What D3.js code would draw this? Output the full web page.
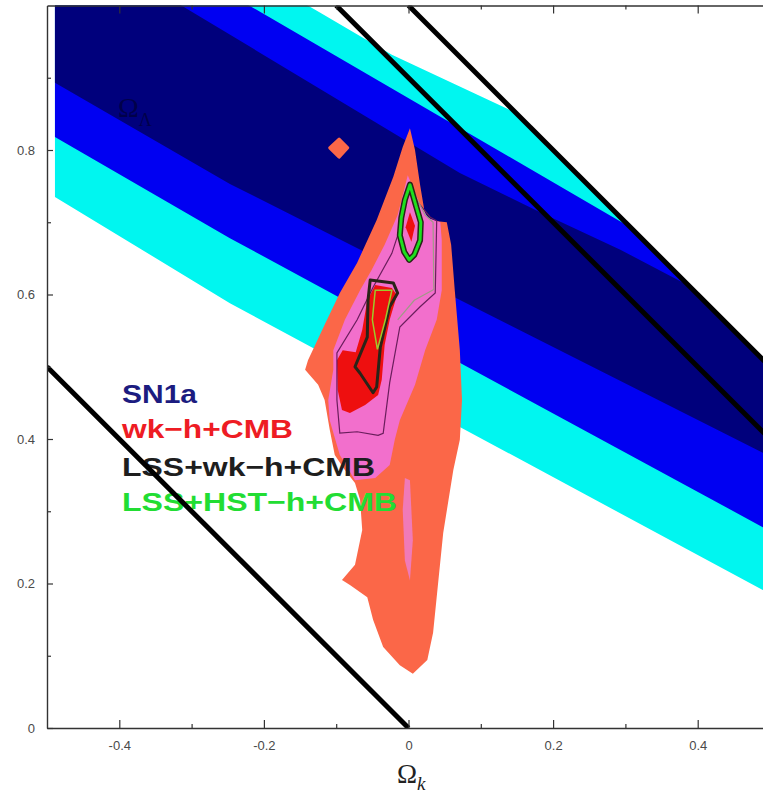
<!DOCTYPE html>
<html><head><meta charset="utf-8">
<script src="https://cdn.jsdelivr.net/npm/d3@7"></script>
<style>html,body{margin:0;padding:0;background:#fff;} svg{display:block}</style>
</head><body>
<script>
// ---------- data (Omega_k , Omega_m) ----------
const xTickMajor = [-0.4, -0.2, 0, 0.2, 0.4];
const xTickMinor = [-0.3, -0.1, 0.1, 0.3];
const xTickLabels = ["-0.4", "-0.2", "0", "0.2", "0.4"];
const yTickMajor = [0, 0.2, 0.4, 0.6, 0.8];
const yTickMinor = [0.1, 0.3, 0.5, 0.7, 0.9];
const yTickLabels = ["0", "0.2", "0.4", "0.6", "0.8"];

// SN1a confidence bands: upper and lower edges
const cyanUpper = [[-0.51,1.214],[-0.122,0.990],[-0.023,0.932],[0.150,0.851],[0.514,0.682]];
const cyanLower = [[-0.51,0.747],[-0.489,0.735],[-0.247,0.588],[0.490,0.191],[0.514,0.179]];
const blueUpper = [[-0.51,1.168],[-0.217,0.998],[0.283,0.707],[0.514,0.573]];
const blueLower = [[-0.51,0.830],[-0.489,0.818],[-0.247,0.678],[0.490,0.278],[0.514,0.266]];
const navyUpper = [[-0.51,1.118],[-0.309,0.997],[0.071,0.768],[0.182,0.714],[0.293,0.662],[0.403,0.604],[0.514,0.537]];
const navyLower = [[-0.51,0.905],[-0.489,0.893],[-0.247,0.753],[0.490,0.381],[0.514,0.368]];
const fillLeftEdge = -0.489;

// straight constraint lines
const lineA = [[-0.5,0.5],[0,0]];
const lineB = [[-0.1,1.0],[0.5,0.4]];
const lineC = [[0,1.0],[0.5,0.5]];

// wk-h+CMB contours
const orangeOuter = [[0.002,0.830],[0.009,0.800],[0.016,0.752],[0.023,0.710],[0.033,0.702],[0.053,0.700],[0.059,0.669],[0.064,0.606],[0.071,0.523],[0.074,0.454],[0.071,0.399],[0.062,0.357],[0.048,0.270],[0.034,0.132],[0.026,0.094],[0.006,0.075],[-0.012,0.087],[-0.035,0.112],[-0.049,0.150],[-0.057,0.181],[-0.081,0.198],[-0.092,0.205],[-0.074,0.226],[-0.064,0.274],[-0.067,0.316],[-0.074,0.339],[-0.088,0.357],[-0.102,0.378],[-0.109,0.413],[-0.116,0.454],[-0.125,0.475],[-0.143,0.496],[-0.139,0.509],[-0.116,0.558],[-0.095,0.602],[-0.071,0.644],[-0.044,0.703],[-0.021,0.763],[-0.008,0.804]];
const orangeIsland = [[-0.096,0.815],[-0.084,0.803],[-0.096,0.790],[-0.109,0.803]];
const pinkMid = [[-0.001,0.765],[0.013,0.731],[0.027,0.706],[0.044,0.700],[0.046,0.675],[0.046,0.606],[0.039,0.565],[0.023,0.523],[0.009,0.475],[-0.012,0.426],[-0.019,0.399],[-0.026,0.364],[-0.046,0.346],[-0.074,0.343],[-0.095,0.378],[-0.109,0.426],[-0.111,0.454],[-0.104,0.496],[-0.104,0.523],[-0.088,0.565],[-0.067,0.606],[-0.051,0.634],[-0.033,0.669],[-0.015,0.710],[-0.006,0.745]];
const pinkSliver = [[-0.005,0.346],[0.002,0.343],[0.006,0.260],[0.002,0.204],[-0.005,0.232],[-0.008,0.302]];
const redInner = [[-0.046,0.613],[-0.023,0.609],[-0.016,0.599],[-0.026,0.565],[-0.033,0.530],[-0.037,0.482],[-0.042,0.461],[-0.060,0.447],[-0.081,0.436],[-0.092,0.440],[-0.098,0.468],[-0.099,0.509],[-0.091,0.523],[-0.073,0.520],[-0.064,0.551],[-0.057,0.592]];
// LSS+wk-h+CMB contours
const lssInner = [[-0.053,0.620],[-0.021,0.616],[-0.015,0.602],[-0.026,0.583],[-0.039,0.527],[-0.044,0.472],[-0.049,0.464],[-0.067,0.491],[-0.074,0.500],[-0.057,0.541],[-0.056,0.592]];
const lssOuter = [[-0.001,0.749],[0.016,0.724],[0.030,0.707],[0.039,0.702],[0.037,0.602],[0.016,0.583],[-0.012,0.555],[-0.026,0.478],[-0.035,0.408],[-0.042,0.405],[-0.071,0.410],[-0.095,0.408],[-0.099,0.454],[-0.099,0.519],[-0.071,0.565],[-0.049,0.610],[-0.023,0.657],[-0.008,0.703]];
const lssGrey = [[0.005,0.745],[0.023,0.710],[0.034,0.700],[0.035,0.607],[0.008,0.592],[-0.015,0.565]];
// LSS+HST-h+CMB contours
const hstOuter = [[0.002,0.752],[0.010,0.724],[0.017,0.700],[0.016,0.675],[0.008,0.655],[0.001,0.648],[-0.006,0.659],[-0.012,0.682],[-0.010,0.706],[-0.005,0.731]];
const hstCore = [[0.002,0.714],[0.009,0.695],[0.004,0.673],[-0.004,0.693]];
const hstSecond = [[-0.046,0.606],[-0.023,0.606],[-0.032,0.565],[-0.043,0.524],[-0.050,0.565]];

const legendLabels = ["SN1a", "wk\u2212h+CMB", "LSS+wk\u2212h+CMB", "LSS+HST\u2212h+CMB"];
const legendColors = ["#1c1c80", "#ee1c24", "#1e1e1e", "#22dd33"];
const legendWidths = [75, 171, 253, 275];

// ---------- drawing ----------
const W = 763, H = 797;
const x = d3.scaleLinear().domain([-0.5, 0.5]).range([47, 770]);
const y = d3.scaleLinear().domain([0, 1]).range([728, 5.5]);

const svg = d3.select("body").append("svg").attr("width", W).attr("height", H);
const path = d3.line().x(d => x(d[0])).y(d => y(d[1]));
const poly = pts => path(pts) + "Z";

const defs = svg.append("defs");
// plot clip: fill starts slightly right of axis, top at 1, and cut above line C
const clipPts = [[fillLeftEdge, 0], [fillLeftEdge, 1], lineC[0], lineC[1], [0.5, 0]];
defs.append("clipPath").attr("id", "bandclip").append("path").attr("d", poly(clipPts));
defs.append("clipPath").attr("id", "plotclip").append("rect")
  .attr("x", x(-0.5)).attr("y", y(1)).attr("width", x(0.5) - x(-0.5)).attr("height", y(0) - y(1));

const bands = svg.append("g").attr("clip-path", "url(#bandclip)");
function band(up, lo, color) {
  bands.append("path").attr("d", poly(up.concat(lo.slice().reverse()))).attr("fill", color);
}
band(cyanUpper, cyanLower, "#00f6f0");
band(blueUpper, blueLower, "#0000f2");
band(navyUpper, navyLower, "#00007c");

// hidden axis title inside the bands
const ylab = svg.append("text").attr("x", 118).attr("y", 117)
  .attr("font-family", "Liberation Serif, DejaVu Serif, serif").attr("font-size", 28).attr("fill", "#00004a");
ylab.append("tspan").text("\u03A9");
ylab.append("tspan").attr("dy", 9).attr("font-size", 18).text("\u039B");

// contours
const cont = svg.append("g").attr("clip-path", "url(#plotclip)");
cont.append("path").attr("d", poly(orangeOuter)).attr("fill", "#fb6748");
cont.append("path").attr("d", poly(orangeIsland)).attr("fill", "#fb6748").attr("stroke", "#fb6748").attr("stroke-width", 3).attr("stroke-linejoin", "round");
cont.append("path").attr("d", poly(pinkMid)).attr("fill", "#f26fcc");
cont.append("path").attr("d", poly(pinkSliver)).attr("fill", "#f07ab8");
cont.append("path").attr("d", poly(redInner)).attr("fill", "#ee0f0f");
cont.append("path").attr("d", poly(lssOuter)).attr("fill", "none").attr("stroke", "#6a1e5c").attr("stroke-width", 1.2);
cont.append("path").attr("d", path(lssGrey)).attr("fill", "none").attr("stroke", "#a09a86").attr("stroke-width", 1.2);
cont.append("path").attr("d", poly(lssInner)).attr("fill", "none").attr("stroke", "#2a2418").attr("stroke-width", 3).attr("stroke-linejoin", "round");
cont.append("path").attr("d", poly(hstSecond)).attr("fill", "none").attr("stroke", "#9ccc2a").attr("stroke-width", 1.5);
cont.append("path").attr("d", poly(hstOuter)).attr("fill", "#f070c8").attr("stroke", "#2a2418").attr("stroke-width", 6).attr("stroke-linejoin", "round");
cont.append("path").attr("d", poly(hstOuter)).attr("fill", "none").attr("stroke", "#1ee01e").attr("stroke-width", 3).attr("stroke-linejoin", "round");
cont.append("path").attr("d", poly(hstCore)).attr("fill", "#ee0f0f");

// legend
const legBase = [403, 438, 476, 511];
legendLabels.forEach((t, i) => {
  svg.append("text").attr("x", 122).attr("y", legBase[i])
    .attr("font-family", "Liberation Sans, Arial, sans-serif").attr("font-weight", "bold").attr("font-size", 26)
    .attr("fill", legendColors[i]).attr("textLength", legendWidths[i]).attr("lengthAdjust", "spacingAndGlyphs")
    .text(t);
});

// black lines
const lines = svg.append("g").attr("clip-path", "url(#plotclip)");
[lineA, lineB, lineC].forEach(l => {
  lines.append("path").attr("d", path(l)).attr("stroke", "#000").attr("stroke-width", 5).attr("fill", "none");
});

// axes
const axColor = "#333";
function styleAxis(g) {
  g.selectAll(".domain").attr("stroke", axColor).attr("stroke-width", 1.4);
  g.selectAll(".tick line").attr("stroke", axColor).attr("stroke-width", 1.2);
  g.selectAll(".tick text").attr("fill", "#4a4a4a").attr("font-family", "Liberation Sans, Arial, sans-serif").attr("font-size", 13);
}
const fmtX = d => xTickLabels[xTickMajor.indexOf(d)];
const fmtY = d => yTickLabels[yTickMajor.indexOf(d)];

const gB = svg.append("g").attr("transform", `translate(0,${y(0)})`)
  .call(d3.axisBottom(x).tickValues(xTickMajor).tickFormat(fmtX).tickSizeInner(-8).tickSizeOuter(0).tickPadding(13));
styleAxis(gB);
const gBm = svg.append("g").attr("transform", `translate(0,${y(0)})`)
  .call(d3.axisBottom(x).tickValues(xTickMinor).tickFormat("").tickSizeInner(-4).tickSizeOuter(0));
styleAxis(gBm); gBm.select(".domain").remove();

const gT = svg.append("g").attr("transform", `translate(0,${y(1)})`)
  .call(d3.axisTop(x).tickValues(xTickMajor).tickFormat("").tickSizeInner(-8).tickSizeOuter(0));
styleAxis(gT);
const gTm = svg.append("g").attr("transform", `translate(0,${y(1)})`)
  .call(d3.axisTop(x).tickValues(xTickMinor).tickFormat("").tickSizeInner(-4).tickSizeOuter(0));
styleAxis(gTm); gTm.select(".domain").remove();

const gL = svg.append("g").attr("transform", `translate(${x(-0.5)},0)`)
  .call(d3.axisLeft(y).tickValues(yTickMajor).tickFormat(fmtY).tickSizeInner(-6).tickSizeOuter(0).tickPadding(12));
styleAxis(gL);
const gLm = svg.append("g").attr("transform", `translate(${x(-0.5)},0)`)
  .call(d3.axisLeft(y).tickValues(yTickMinor).tickFormat("").tickSizeInner(-4).tickSizeOuter(0));
styleAxis(gLm); gLm.select(".domain").remove();

// x-axis title
const xlab = svg.append("text").attr("x", 397).attr("y", 783)
  .attr("font-family", "Liberation Serif, DejaVu Serif, serif").attr("font-size", 27).attr("fill", "#222");
xlab.append("tspan").text("\u03A9");
xlab.append("tspan").attr("dy", 7).attr("font-size", 19).attr("font-style", "italic").text("k");
</script>
</body></html>
